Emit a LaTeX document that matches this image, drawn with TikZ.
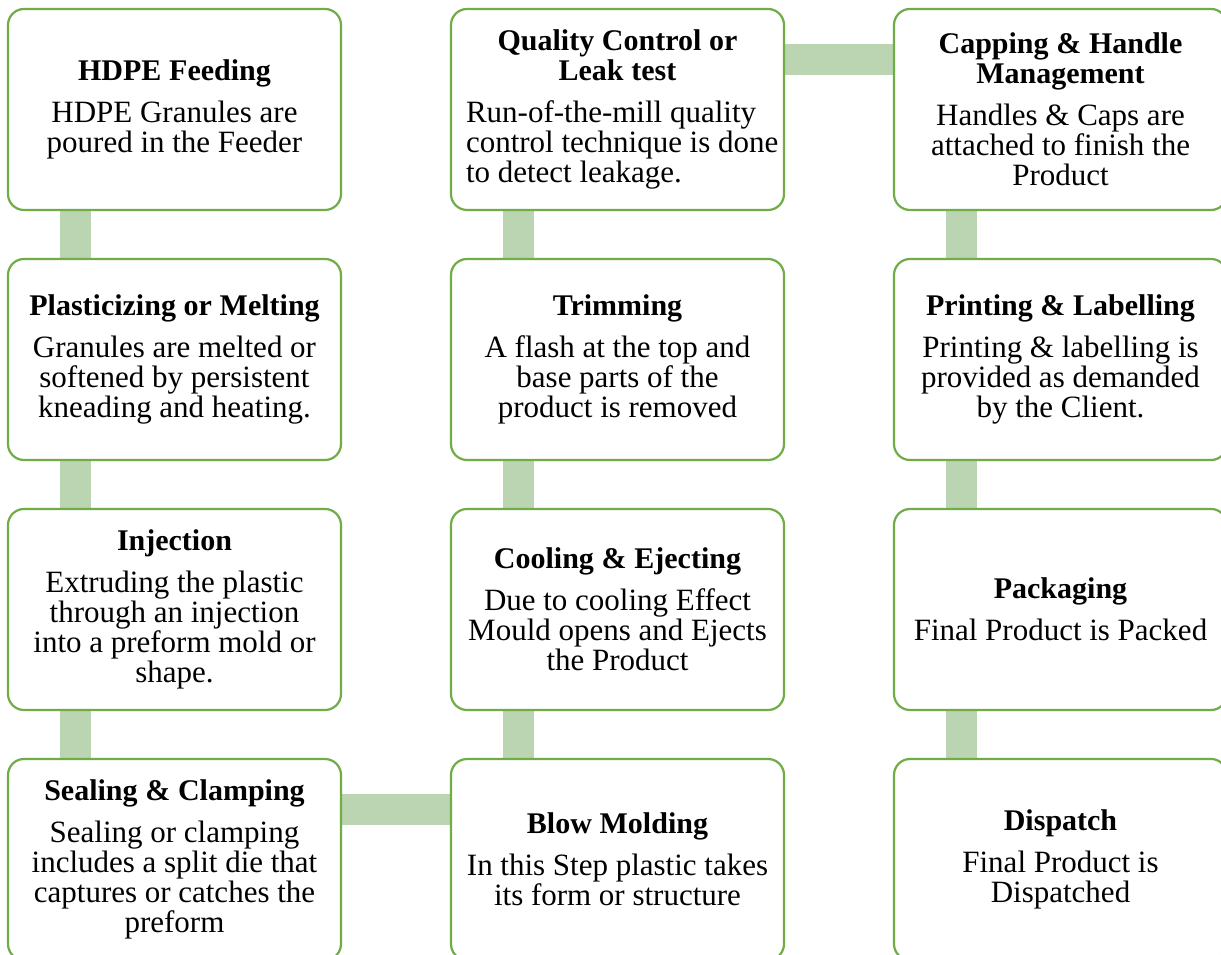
\documentclass[tikz,border=0pt]{standalone}
\usepackage{fontspec}
\setmainfont{Liberation Serif}
\usetikzlibrary{backgrounds}
\definecolor{boxgreen}{HTML}{70AD47}
\definecolor{bargreen}{HTML}{BBD4B2}
\newcommand{\bodysize}{\fontsize{31}{30}\selectfont\lineskiplimit=-100pt}
\newcommand{\ttl}[1]{{\fontsize{30}{30}\selectfont\bfseries #1}}
\newcommand{\normalspaces}{\spaceskip=7.7pt\xspaceskip=7.7pt\relax}
\tikzset{
  box/.style={draw=boxgreen, line width=2.2pt, rounded corners=16pt, fill=white,
    minimum width=333pt, minimum height=201pt, inner sep=0pt, text width=325pt,
    align=center, font=\bodysize, execute at begin node=\normalspaces},
  bar/.style={draw=bargreen, line width=31pt}
}
\begin{document}
\begin{tikzpicture}[x=1pt,y=1pt]
\clip (0,0) rectangle (1221,955);
% column 1
\node[box] (feed) at (174.5,845.5) {\ttl{HDPE Feeding}\\[12pt]HDPE Granules are\\poured in the Feeder};
\node[box] (melt) at (174.5,595.5) {\ttl{Plasticizing or Melting}\\[12pt]Granules are melted or\\softened by persistent\\kneading and heating.};
\node[box] (inj) at (174.5,345.5) {\ttl{Injection}\\[12pt]Extruding the plastic\\through an injection\\into a preform mold or\\shape.};
\node[box] (seal) at (174.5,95.5) {\ttl{Sealing \& Clamping}\\[12pt]Sealing or clamping\\includes a split die that\\captures or catches the\\preform};
% column 2
\node[box] (blow) at (617.5,95.5) {\ttl{Blow Molding}\\[12pt]In this Step plastic takes\\its form or structure};
\node[box] (cool) at (617.5,345.5) {\ttl{Cooling \& Ejecting}\\[12pt]Due to cooling Effect\\Mould opens and Ejects\\the Product};
\node[box] (trim) at (617.5,595.5) {\ttl{Trimming}\\[12pt]A flash at the top and\\base parts of the\\product is removed};
\node[box, align=left] (qc) at (617.5,845.5) {\makebox[325pt]{\ttl{Quality Control or}}\\\makebox[325pt]{\ttl{Leak test}}\\[12pt]\hspace*{11pt}Run-of-the-mill quality\\\hspace*{11pt}control technique is done\\\hspace*{11pt}to detect leakage.};
% column 3
\node[box] (cap) at (1060.5,845.5) {\ttl{Capping \& Handle}\\\ttl{Management}\\[12pt]Handles \& Caps are\\attached to finish the\\Product};
\node[box] (print) at (1060.5,595.5) {\ttl{Printing \& Labelling}\\[12pt]Printing \& labelling is\\provided as demanded\\by the Client.};
\node[box] (pack) at (1060.5,345.5) {\ttl{Packaging}\\[12pt]Final Product is Packed};
\node[box] (disp) at (1060.5,95.5) {\ttl{Dispatch}\\[12pt]Final Product is\\Dispatched};
% background and connectors
\begin{scope}[on background layer]
\fill[white] (0,0) rectangle (1221,955);
\draw[bar] ([xshift=-99pt]feed.south) -- ([xshift=-99pt]melt.north);
\draw[bar] ([xshift=-99pt]melt.south) -- ([xshift=-99pt]inj.north);
\draw[bar] ([xshift=-99pt]inj.south) -- ([xshift=-99pt]seal.north);
\draw[bar] ([yshift=50pt]seal.east) -- ([yshift=50pt]blow.west);
\draw[bar] ([xshift=-99pt]blow.north) -- ([xshift=-99pt]cool.south);
\draw[bar] ([xshift=-99pt]cool.north) -- ([xshift=-99pt]trim.south);
\draw[bar] ([xshift=-99pt]trim.north) -- ([xshift=-99pt]qc.south);
\draw[bar] ([yshift=50pt]qc.east) -- ([yshift=50pt]cap.west);
\draw[bar] ([xshift=-99pt]cap.south) -- ([xshift=-99pt]print.north);
\draw[bar] ([xshift=-99pt]print.south) -- ([xshift=-99pt]pack.north);
\draw[bar] ([xshift=-99pt]pack.south) -- ([xshift=-99pt]disp.north);
\end{scope}
\end{tikzpicture}
\end{document}
